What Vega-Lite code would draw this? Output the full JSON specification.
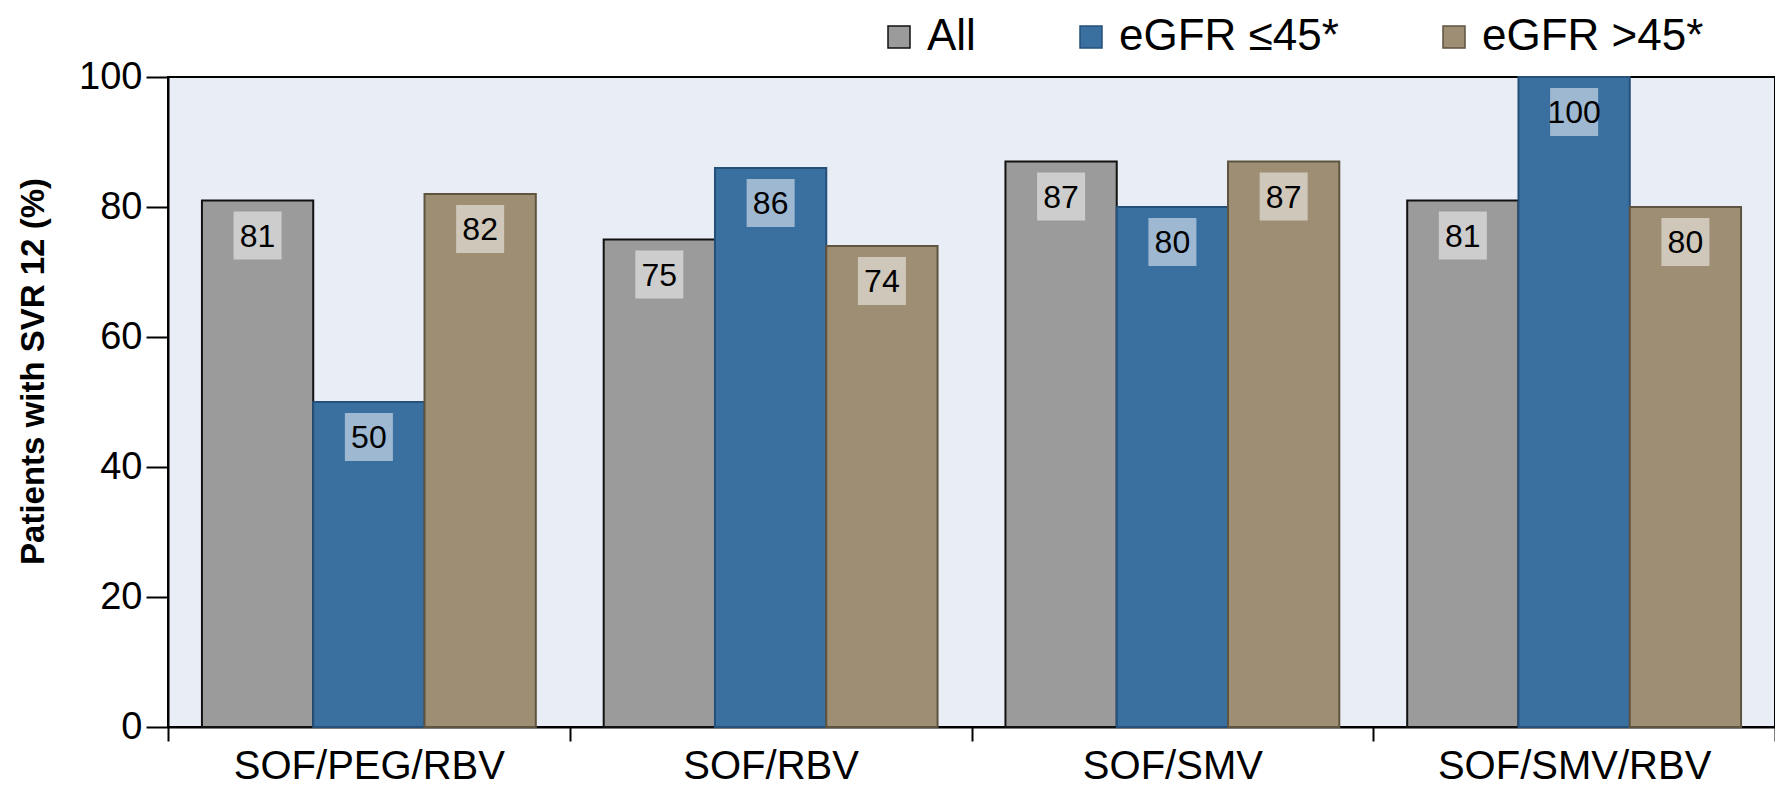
{
  "$schema": "https://vega.github.io/schema/vega-lite/v6.json",
  "autosize": {"type": "none"},
  "padding": {"left": 168, "top": 77, "right": 0, "bottom": 58},
  "width": 1607,
  "height": 650,
  "background": "white",
  "data": {
    "values": [
      {"regimen": "SOF/PEG/RBV", "group": "All", "svr": 81},
      {"regimen": "SOF/PEG/RBV", "group": "eGFR ≤45*", "svr": 50},
      {"regimen": "SOF/PEG/RBV", "group": "eGFR >45*", "svr": 82},
      {"regimen": "SOF/RBV", "group": "All", "svr": 75},
      {"regimen": "SOF/RBV", "group": "eGFR ≤45*", "svr": 86},
      {"regimen": "SOF/RBV", "group": "eGFR >45*", "svr": 74},
      {"regimen": "SOF/SMV", "group": "All", "svr": 87},
      {"regimen": "SOF/SMV", "group": "eGFR ≤45*", "svr": 80},
      {"regimen": "SOF/SMV", "group": "eGFR >45*", "svr": 87},
      {"regimen": "SOF/SMV/RBV", "group": "All", "svr": 81},
      {"regimen": "SOF/SMV/RBV", "group": "eGFR ≤45*", "svr": 100},
      {"regimen": "SOF/SMV/RBV", "group": "eGFR >45*", "svr": 80}
    ]
  },
  "encoding": {
    "x": {
      "field": "regimen", "type": "nominal",
      "sort": ["SOF/PEG/RBV", "SOF/RBV", "SOF/SMV", "SOF/SMV/RBV"],
      "scale": {"paddingInner": 0, "paddingOuter": 0},
      "axis": {
        "title": null, "labelAngle": 0, "domainColor": "black", "domainWidth": 2,
        "tickBand": "extent", "tickSize": 14, "tickColor": "black", "tickWidth": 2,
        "labelFont": "Liberation Sans", "labelFontSize": 40, "labelColor": "black",
        "labelPadding": 5, "labelLimit": 0, "grid": false
      }
    },
    "xOffset": {
      "field": "group", "type": "nominal",
      "sort": ["All", "eGFR ≤45*", "eGFR >45*"],
      "scale": {"paddingInner": 0, "paddingOuter": 0.305}
    },
    "y": {
      "field": "svr", "type": "quantitative",
      "scale": {"domain": [0, 100], "nice": false},
      "axis": {
        "values": [0, 20, 40, 60, 80, 100], "grid": false,
        "domainColor": "black", "domainWidth": 2,
        "tickSize": 22, "tickColor": "black", "tickWidth": 2,
        "labelFont": "Liberation Sans", "labelFontSize": 38, "labelColor": "black", "labelPadding": 4,
        "title": "Patients with SVR 12 (%)", "titleFont": "Liberation Sans", "titleFontSize": 33,
        "titleFontWeight": "bold", "titleColor": "black", "titlePadding": 28, "titleY": 294
      }
    }
  },
  "layer": [
    {
      "mark": {"type": "bar", "strokeWidth": 2},
      "encoding": {
        "color": {
          "field": "group", "type": "nominal",
          "scale": {"domain": ["All", "eGFR ≤45*", "eGFR >45*"], "range": ["#9b9b9b", "#3a70a0", "#9e8f74"]},
          "legend": {
            "title": null, "orient": "none", "legendX": 709, "legendY": -62,
            "direction": "horizontal", "columns": 3, "symbolType": "square", "symbolSize": 484,
            "symbolStrokeColor": "#333333", "symbolStrokeWidth": 1.5,
            "labelFont": "Liberation Sans", "labelFontSize": 44, "labelColor": "black", "labelLimit": 0,
            "columnPadding": 93, "labelOffset": 6, "padding": 0
          }
        },
        "stroke": {
          "field": "group", "type": "nominal",
          "scale": {"domain": ["All", "eGFR ≤45*", "eGFR >45*"], "range": ["#111111", "#25507a", "#5e5440"]},
          "legend": null
        }
      }
    },
    {
      "mark": {"type": "point", "shape": "square", "filled": true, "size": 2304, "color": "white", "opacity": 0.5, "strokeWidth": 0, "yOffset": 35}
    },
    {
      "mark": {"type": "text", "font": "Liberation Sans", "fontSize": 32, "color": "black", "yOffset": 36, "baseline": "middle"},
      "encoding": {"text": {"field": "svr", "type": "quantitative"}}
    }
  ],
  "config": {"view": {"fill": "#e9edf6", "stroke": "black", "strokeWidth": 2}}
}
